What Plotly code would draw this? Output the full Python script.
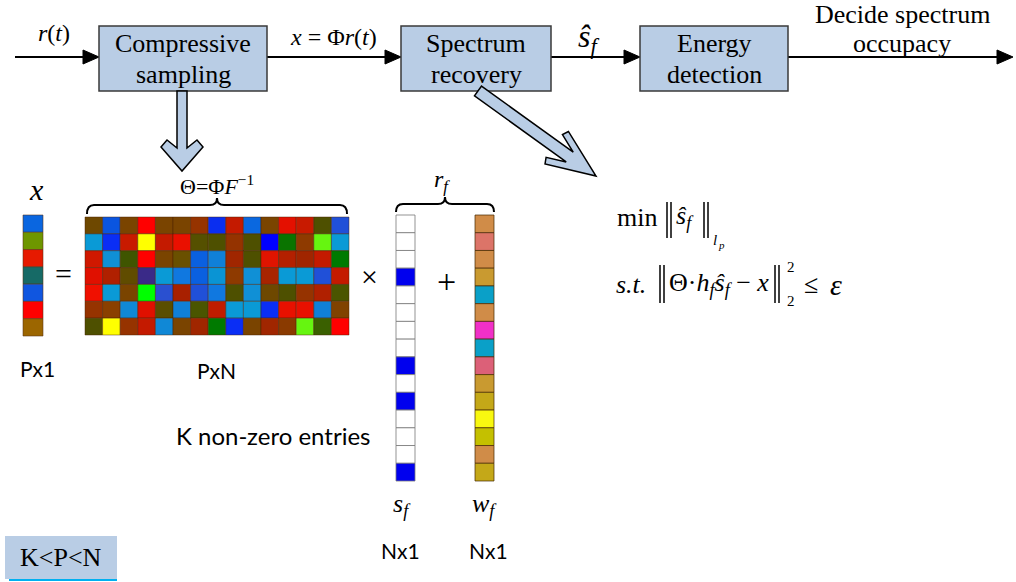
import math
import plotly.graph_objects as go

W, H = 1016, 582

# ---------------- data ----------------
BLOCK_LINES = [["Compressive", "sampling"], ["Spectrum", "recovery"], ["Energy", "detection"]]
OUTPUT_LINES = ["Decide spectrum", "occupacy"]

MATRIX_COLORS = [
    ["#6E4800", "#0A55E0", "#7A4400", "#FF0000", "#7A4400", "#7A4400", "#963300", "#0A2EF0", "#C41A00", "#0A68E0", "#7A4400", "#E41000", "#C81A00", "#4E5000", "#2050D8"],
    ["#0A9AD6", "#0A2EF5", "#C81A00", "#FFFF00", "#C41A00", "#EA1000", "#555000", "#4E5000", "#943300", "#4E5000", "#0000FF", "#0A7400", "#8E3A00", "#66F510", "#0A9AD6"],
    ["#D01800", "#1090D6", "#3F5500", "#FF0000", "#7A4400", "#6A5000", "#0A60E0", "#1080D8", "#A02600", "#4E5000", "#E01400", "#B32000", "#A02500", "#C41A00", "#007A00"],
    ["#E01000", "#B02000", "#604C00", "#3A2A88", "#0A9AD6", "#1078E0", "#0A60E0", "#0A94D4", "#8E3A00", "#1090D6", "#A82400", "#0A9AD6", "#0A9AD6", "#2050D8", "#C41A00"],
    ["#F01000", "#0A9AD6", "#7A4400", "#00FF00", "#2A50D0", "#A82000", "#2050D8", "#1078E0", "#4E5000", "#1090D6", "#6E4800", "#4E5000", "#963300", "#B02000", "#4A5500"],
    ["#963300", "#8A4000", "#1088D6", "#E01000", "#5A4E00", "#1080D8", "#4A5500", "#C01C00", "#0A9AD6", "#0A9AD6", "#0A2EF5", "#E81000", "#E81000", "#1080D8", "#804200"],
    ["#4E5000", "#FFFF00", "#963300", "#C41A00", "#1088D6", "#7A4400", "#A02600", "#007A00", "#0A2EF5", "#7A4400", "#A02600", "#8A3A00", "#66F510", "#3A6000", "#FF0000"],
]
X_COLORS = ["#0A66E0", "#6E9600", "#E61A00", "#166A66", "#1056E0", "#FF0000", "#9C6600"]
S_VALUES = [0, 0, 0, 1, 0, 0, 0, 0, 1, 0, 1, 0, 0, 0, 1]
W_COLORS = ["#D08C48", "#DC7468", "#D08C48", "#C99A30", "#0AA0C8", "#D08C48", "#F030C8", "#0AA0C8",
            "#DC6078", "#C99A30", "#C4A818", "#F8F810", "#C4C000", "#D08C48", "#C4A818"]

# ---------------- styles / layout ----------------
SERIF = "Liberation Serif, Times New Roman, Times, serif"
SANS = "Lato, Carlito, Liberation Sans, sans-serif"
BOX_FILL = "#B9CDE5"
BOX_LINE = "#3A3A3A"

shapes = []
ann = []


def text(x, y, t, size, font=SERIF, xanchor="center", yanchor="middle", color="black"):
    ann.append(dict(x=x, y=y, xref="x", yref="y", text=t, showarrow=False,
                    xanchor=xanchor, yanchor=yanchor,
                    font=dict(family=font, size=size, color=color)))


def rect(x0, y0, x1, y1, fill, line="rgba(0,0,0,0)", lw=1):
    shapes.append(dict(type="rect", xref="x", yref="y", x0=x0, y0=y0, x1=x1, y1=y1,
                       fillcolor=fill, line=dict(color=line, width=lw)))


def line(x0, y0, x1, y1, color="black", lw=2):
    shapes.append(dict(type="line", xref="x", yref="y", x0=x0, y0=y0, x1=x1, y1=y1,
                       line=dict(color=color, width=lw)))


def path(pts, fill, lc="black", lw=1.5, closed=True):
    d = "M " + " L ".join(f"{x:.2f},{y:.2f}" for x, y in pts)
    if closed:
        d += " Z"
    shapes.append(dict(type="path", xref="x", yref="y", path=d, fillcolor=fill,
                       line=dict(color=lc, width=lw)))


def arrow_line(x0, x1, y):
    line(x0, y, x1 - 12, y, lw=2)
    path([(x1, y), (x1 - 16, y - 7), (x1 - 16, y + 7)], "black", lw=1)


def hollow_arrow(start, tip, w, shaft_end, inner, outer):
    sx, sy = start
    tx, ty = tip
    L = math.hypot(tx - sx, ty - sy)
    dx, dy = (tx - sx) / L, (ty - sy) / L
    nx, ny = -dy, dx
    local = [(0, -w), (shaft_end, -w), (inner[0], -inner[1]), (outer[0], -outer[1]), (L, 0),
             (outer[0], outer[1]), (inner[0], inner[1]), (shaft_end, w), (0, w)]
    pts = [(sx + u * dx + v * nx, sy + u * dy + v * ny) for u, v in local]
    path(pts, BOX_FILL, lc="black", lw=1.5)


def brace(x0, x1, xm, yb, ym, yt):
    r = 7
    d = (f"M {x0},{yb} Q {x0},{ym} {x0 + r},{ym} L {xm - r},{ym} Q {xm},{ym} {xm},{yt} "
         f"Q {xm},{ym} {xm + r},{ym} L {x1 - r},{ym} Q {x1},{ym} {x1},{yb}")
    shapes.append(dict(type="path", xref="x", yref="y", path=d,
                       line=dict(color="black", width=2)))


def norm_bars(x, y0, y1):
    line(x, y0, x, y1, lw=1.5)
    line(x + 4, y0, x + 4, y1, lw=1.5)


# ---- top flow ----
FLOW_Y = 57
BOXES = [(99, 267), (401, 551), (640, 788)]
BOX_TOP, BOX_BOT = 26, 91
arrow_line(15, 99, FLOW_Y)
arrow_line(267, 401, FLOW_Y)
arrow_line(551, 640, FLOW_Y)
arrow_line(788, 1013, FLOW_Y)

for (x0, x1), lines in zip(BOXES, BLOCK_LINES):
    rect(x0, BOX_TOP, x1, BOX_BOT, BOX_FILL, BOX_LINE, 1.5)
    cx = (x0 + x1) / 2
    text(cx, 43, lines[0], 26)
    text(cx, 74, lines[1], 26)

text(54, 33, "<i>r</i>(<i>t</i>)", 24)
text(333, 37, "<i>x</i> = Φ<i>r</i>(<i>t</i>)", 24)
text(588, 38, "<i>ŝ</i><sub><i>f</i></sub>", 32)
text(902, 14, OUTPUT_LINES[0], 26)
text(902, 43, OUTPUT_LINES[1], 26)

# hollow arrows
hollow_arrow((182, 91), (182, 171), 5, 57, (49, 15), (56, 21))
hollow_arrow((478, 91), (596, 176), 6, 113, (94, 14), (97, 20))

# ---- x vector ----
XV = (23, 43, 215, 336)
ch = (XV[3] - XV[2]) / len(X_COLORS)
for i, c in enumerate(X_COLORS):
    rect(XV[0], XV[2] + i * ch, XV[1], XV[2] + (i + 1) * ch, c, "rgba(90,50,20,0.55)", 1)
text(36, 189, "<i>x</i>", 30)
text(63, 273, "=", 30)
text(37, 368, "Px1", 21, SANS)

# ---- matrix ----
MX = (85, 349, 217, 335)
nrow, ncol = len(MATRIX_COLORS), len(MATRIX_COLORS[0])
cw = (MX[1] - MX[0]) / ncol
chm = (MX[3] - MX[2]) / nrow
for r, row in enumerate(MATRIX_COLORS):
    for c, col in enumerate(row):
        rect(MX[0] + c * cw, MX[2] + r * chm, MX[0] + (c + 1) * cw, MX[2] + (r + 1) * chm,
             col, "rgba(70,30,0,0.45)", 1)
brace(87, 347, 217, 214, 205, 198)
text(217, 185, "Θ=Φ<i>F</i><sup>−1</sup>", 22)
text(216, 370, "PxN", 21, SANS)
text(369, 276, "×", 30)

# ---- s_f / w_f ----
SV = (396, 415, 215, 481)
WV = (475, 494, 215, 481)
n = len(S_VALUES)
hs = (SV[3] - SV[2]) / n
for i, v in enumerate(S_VALUES):
    rect(SV[0], SV[2] + i * hs, SV[1], SV[2] + (i + 1) * hs, "#0000EE" if v else "white",
         "rgba(120,120,120,0.8)", 1)
for i, c in enumerate(W_COLORS):
    rect(WV[0], WV[2] + i * hs, WV[1], WV[2] + (i + 1) * hs, c, "rgba(70,40,0,0.7)", 1)
brace(396, 494, 445, 212, 204, 197)
text(442, 181, "<i>r</i><sub><i>f</i></sub>", 24)
text(446, 281, "+", 34)
text(402, 505, "<i>s</i><sub><i>f</i></sub>", 26)
text(484, 505, "<i>w</i><sub><i>f</i></sub>", 26)
text(400, 550, "Nx1", 21, SANS)
text(488, 550, "Nx1", 21, SANS)
text(273, 435, "K non-zero entries", 24, SANS)

# ---- optimisation problem ----
text(615, 217, "min", 26, xanchor="left")
norm_bars(667, 202, 238)
text(674, 217, "<i>ŝ</i><sub><i>f</i></sub>", 26, xanchor="left")
norm_bars(704, 202, 238)
text(711, 240, "<i>l</i>", 15, xanchor="left")
text(716, 245, "<i>p</i>", 11, xanchor="left")

text(614, 284, "<i>s.t.</i>", 26, xanchor="left")
norm_bars(660, 265, 303)
text(667, 284, "Θ·<i>h</i><sub><i>f</i></sub><i>ŝ</i><sub><i>f</i></sub> − <i>x</i>", 26, xanchor="left")
norm_bars(775, 265, 303)
text(785, 267, "2", 15, xanchor="left")
text(785, 301, "2", 15, xanchor="left")
text(802, 284, "≤", 26, xanchor="left")
text(828, 284, "<i>ε</i>", 30, xanchor="left")

# ---- K<P<N ----
rect(5, 536, 117, 579, BOX_FILL)
line(9, 580, 117, 580, "#00B0F0", 2)
text(61, 557, "K&lt;P&lt;N", 26)

fig = go.Figure()
fig.add_trace(go.Scatter(x=[0, W], y=[0, H], mode="markers", marker=dict(opacity=0),
                         hoverinfo="skip", showlegend=False))
fig.update_layout(
    width=W, height=H, margin=dict(l=0, r=0, t=0, b=0),
    paper_bgcolor="white", plot_bgcolor="white",
    xaxis=dict(range=[0, W], visible=False, fixedrange=True),
    yaxis=dict(range=[H, 0], visible=False, fixedrange=True),
    shapes=shapes, annotations=ann, showlegend=False,
)
fig.write_html("out.html")
